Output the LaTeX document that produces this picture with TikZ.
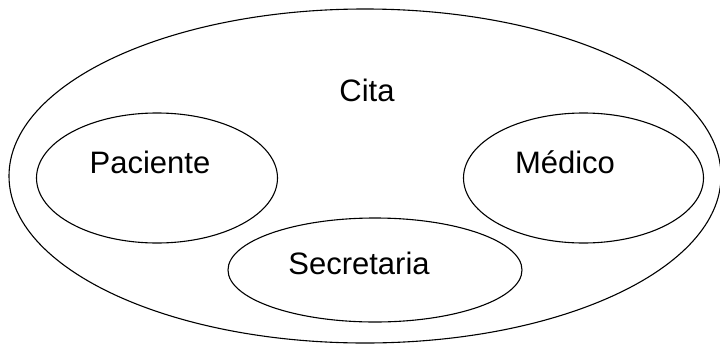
\documentclass[tikz,border=0pt]{standalone}
\usepackage{fontspec}
\setmainfont{Liberation Sans}
\usetikzlibrary{shapes.geometric}
\begin{document}
\begin{tikzpicture}[x=1pt,y=-1pt,
  ell/.style={draw,line width=1.1pt,ellipse,inner sep=0pt},
  lbl/.style={font=\fontsize{31}{36}\selectfont,inner sep=0pt}]
\useasboundingbox (0,0) rectangle (720,343);
\node[ell,minimum width=712pt,minimum height=334pt] (cita) at (365,176) {};
\node[ell,minimum width=241pt,minimum height=130pt] (pac) at (157,178) {};
\node[ell,minimum width=240pt,minimum height=130pt] (med) at (583.5,178) {};
\node[ell,minimum width=294pt,minimum height=104pt] (sec) at (375,270) {};
\node[lbl] (tcita) at (367,90) {Cita};
\node[lbl] (tpac) at (150,162) {Paciente};
\node[lbl] (tmed) at (565,162) {Médico};
\node[lbl] (tsec) at (359,263) {Secretaria};
\end{tikzpicture}
\end{document}
